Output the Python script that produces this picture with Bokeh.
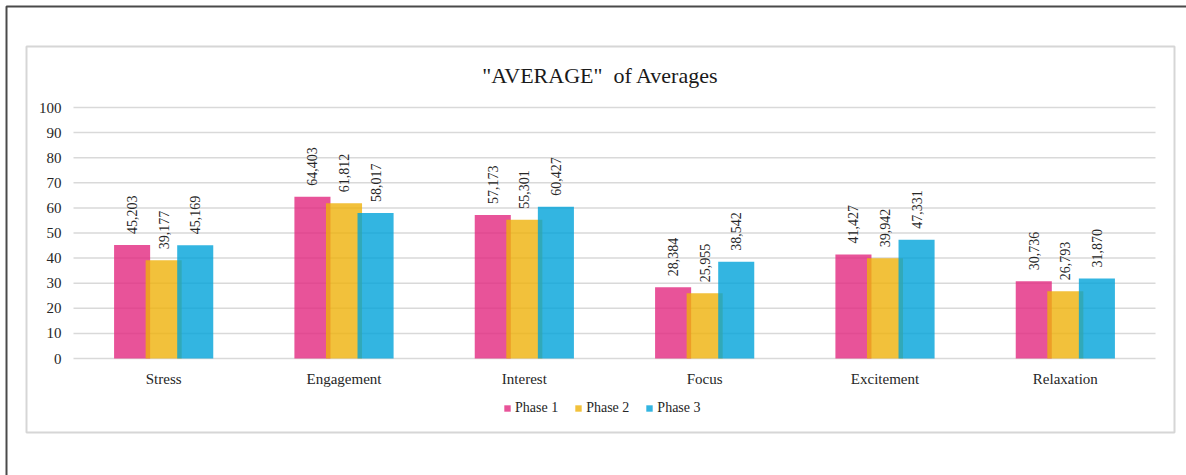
import math
from bokeh.plotting import figure
from bokeh.models import Range1d, ColumnDataSource, Legend, LegendItem
from bokeh.core.properties import value
from bokeh.embed import file_html
from bokeh.resources import INLINE

# ---- data ----
categories = ["Stress", "Engagement", "Interest", "Focus", "Excitement", "Relaxation"]
phase1 = [45.203, 64.403, 57.173, 28.384, 41.427, 30.736]
phase2 = [39.177, 61.812, 55.301, 25.955, 39.942, 26.793]
phase3 = [45.169, 58.017, 60.427, 38.542, 47.331, 31.870]
series_names = ["Phase 1", "Phase 2", "Phase 3"]
y_ticks = [0, 10, 20, 30, 40, 50, 60, 70, 80, 90, 100]
title_text = '"AVERAGE"\u00a0 of Averages'

# ---- styles / layout ----
colors = ["#E2287F", "#EFB20A", "#00A3D9"]
offsets = [-0.175, 0.0, 0.175]
SERIF = "Liberation Serif"
TXT = "#262626"
W, H = 1186, 475
# pixel geometry of the plotting area (category band 0..6, value 0..100)
PX_LEFT, PX_RIGHT = 73.0, 1155.0
PY_ZERO, PY_HUNDRED = 358.0, 107.0
sx = (PX_RIGHT - PX_LEFT) / len(categories)
sy = (PY_ZERO - PY_HUNDRED) / 100.0

def X(px):
    return (px - PX_LEFT) / sx

def Y(py):
    return (PY_ZERO - py) / sy

def fmt(v):
    return f"{v:.3f}".replace(".", ",")

xc = [i + 0.5 for i in range(len(categories))]
src = ColumnDataSource(dict(
    x=xc, cat=categories,
    p1=phase1, p2=phase2, p3=phase3,
    l1=[fmt(v) for v in phase1], l2=[fmt(v) for v in phase2], l3=[fmt(v) for v in phase3],
))

p = figure(x_range=Range1d(X(0), X(W)), y_range=Range1d(Y(H), Y(0)),
           width=W, height=H, output_backend="svg", toolbar_location=None,
           min_border=0, min_border_left=0, min_border_right=0,
           min_border_top=0, min_border_bottom=0)
p.background_fill_color = "white"
p.border_fill_color = "white"
p.outline_line_color = None
p.axis.visible = False
p.grid.visible = False

# outer frame lines (top & left) and inner chart-area box
p.line(x=[X(6), X(6), X(W + 20)], y=[Y(H + 20), Y(6), Y(6)], line_color="#4a4a4a", line_width=2)
p.quad(left=X(26), right=X(1174), top=Y(46), bottom=Y(432),
       fill_color=None, line_color="#d6d6d6", line_width=2)

# gridlines
p.segment(x0=[0] * len(y_ticks), x1=[len(categories)] * len(y_ticks), y0=y_ticks, y1=y_ticks,
          line_color="#d9d9d9", line_width=1.5)

# y tick labels
p.text(x=[0] * len(y_ticks), y=y_ticks, text=[str(t) for t in y_ticks], x_offset=-12,
       text_align="right", text_baseline="middle",
       text_font=value(SERIF), text_font_size="15px", text_color=TXT)

# category labels
p.text(x="x", y=0, text="cat", source=src, y_offset=20,
       text_align="center", text_baseline="middle",
       text_font=value(SERIF), text_font_size="15px", text_color=TXT)

renderers = []
for i, (vcol, lcol) in enumerate([("p1", "l1"), ("p2", "l2"), ("p3", "l3")]):
    xs = [c + offsets[i] for c in xc]
    s = ColumnDataSource(dict(x=xs, top=src.data[vcol], lab=src.data[lcol]))
    r = p.vbar(x="x", top="top", width=0.2, source=s, fill_color=colors[i],
               fill_alpha=0.8, line_color=None)
    renderers.append(r)
    p.text(x="x", y="top", text="lab", source=s, angle=math.pi / 2,
           text_align="left", text_baseline="middle", y_offset=-11,
           text_font=value(SERIF), text_font_size="14px", text_color=TXT)

# title
p.text(x=[len(categories) / 2], y=[100], text=[title_text], x_offset=-14, y_offset=-32,
       text_align="center", text_baseline="middle",
       text_font=value(SERIF), text_font_size="22px", text_color="#1a1a1a")

# legend
legend = Legend(items=[LegendItem(label=series_names[i], renderers=[renderers[i]]) for i in range(3)],
                orientation="horizontal", location=(503, 59),
                glyph_width=8, glyph_height=8, label_standoff=4, spacing=16,
                label_height=16, padding=0, margin=0, border_line_color=None,
                background_fill_alpha=0,
                label_text_font=SERIF, label_text_font_size="14px", label_text_color=TXT)
p.add_layout(legend)

open("out.html", "w").write(file_html(p, INLINE))
